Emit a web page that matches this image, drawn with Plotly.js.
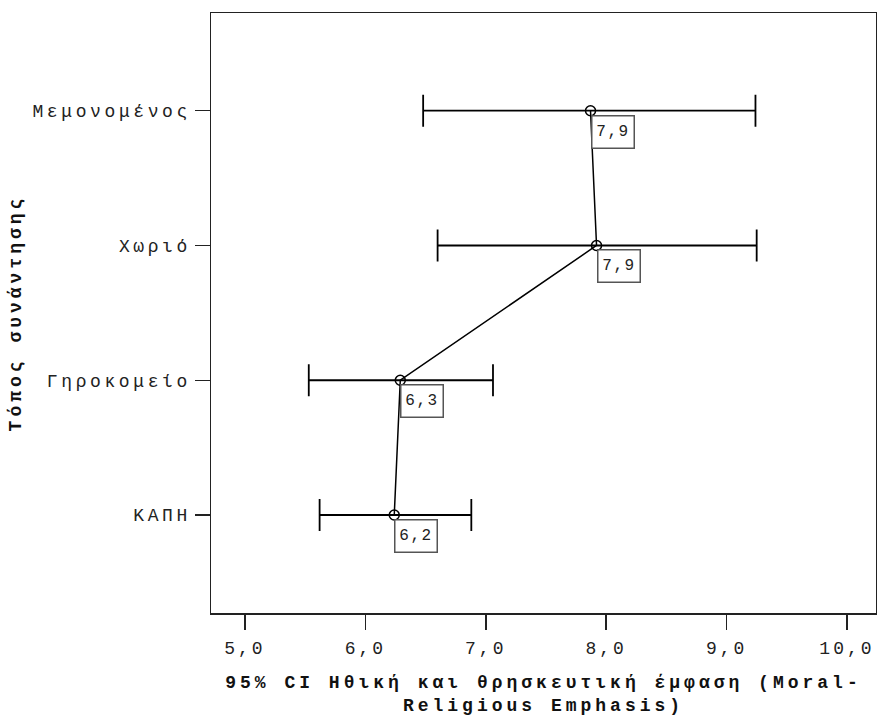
<!DOCTYPE html>
<html>
<head>
<meta charset="utf-8">
<script src="https://cdn.plot.ly/plotly-3.0.1.min.js"></script>
<style>
  html, body { margin: 0; padding: 0; background: #fff; }
  #chart { width: 877px; height: 720px; }
  .ytick text { letter-spacing: 3.6px; }
  .xtick text { letter-spacing: 3px; }
  .g-xtitle text, .g-ytitle text { letter-spacing: 4px; }
  .annotation-text { letter-spacing: 1.5px; }
</style>
</head>
<body>
<div id="chart"></div>
<script>
// Categories (bottom to top)
const categories = ['ΚΑΠΗ', 'Γηροκομείο', 'Χωριό', 'Μεμονομένος'];
// Means and 95% CI bounds
const means = [6.24, 6.29, 7.92, 7.87];
const lower = [5.62, 5.53, 6.60, 6.48];
const upper = [6.88, 7.06, 9.25, 9.24];
const xTicks = [5, 6, 7, 8, 9, 10];

const fontFamily = '"Liberation Mono", "DejaVu Sans Mono", monospace';

const trace = {
  type: 'scatter',
  mode: 'lines+markers',
  x: means,
  y: categories,
  line: { color: '#000', width: 1.5 },
  marker: { symbol: 'circle-open', size: 10, color: '#000', line: { width: 1.5, color: '#000' } },
  error_x: {
    type: 'data',
    symmetric: false,
    array: upper.map((u, i) => u - means[i]),
    arrayminus: lower.map((l, i) => means[i] - l),
    color: '#000',
    thickness: 1.8,
    width: 16
  },
  hoverinfo: 'skip',
  showlegend: false
};

const annotations = means.map((m, i) => ({
  x: m,
  y: categories[i],
  xref: 'x',
  yref: 'y',
  text: m.toFixed(1).replace('.', ','),
  showarrow: false,
  xanchor: 'left',
  yanchor: 'top',
  yshift: -4,
  width: 35,
  height: 25,
  align: 'center',
  valign: 'middle',
  bgcolor: '#fff',
  bordercolor: '#555',
  borderwidth: 1.5,
  borderpad: 3,
  font: { family: fontFamily, size: 16, color: '#222' }
}));

const layout = {
  width: 877,
  height: 720,
  margin: { l: 211, r: 1, t: 13, b: 107 },
  paper_bgcolor: '#fff',
  plot_bgcolor: '#fff',
  separators: ', ',
  showlegend: false,
  xaxis: {
    range: [4.718, 10.241],
    tickvals: xTicks,
    tickformat: '.1f',
    ticks: 'outside',
    ticklen: 15,
    tickwidth: 1.5,
    tickcolor: '#222',
    ticklabelstandoff: 3,
    showgrid: false,
    zeroline: false,
    showline: true,
    linecolor: '#222',
    linewidth: 1.5,
    mirror: true,
    tickfont: { family: fontFamily, size: 18, color: '#222' },
    title: {
      text: '95% CI Ηθική και θρησκευτική έμφαση (Moral-<br>Religious Emphasis)',
      font: { family: fontFamily, size: 18, color: '#111', weight: 'bold' },
      standoff: 17
    }
  },
  yaxis: {
    type: 'category',
    categoryorder: 'array',
    categoryarray: categories,
    range: [-0.727, 3.725],
    ticks: 'outside',
    ticklen: 15,
    tickwidth: 1.5,
    tickcolor: '#222',
    showgrid: false,
    zeroline: false,
    showline: true,
    linecolor: '#222',
    linewidth: 1.5,
    mirror: true,
    tickfont: { family: fontFamily, size: 18, color: '#222' },
    title: {
      text: 'Τόπος συνάντησης',
      font: { family: fontFamily, size: 18, color: '#111', weight: 'bold' },
      standoff: 6
    }
  },
  annotations: annotations
};

Plotly.newPlot('chart', [trace], layout, { displayModeBar: false, staticPlot: true });
</script>
</body>
</html>
